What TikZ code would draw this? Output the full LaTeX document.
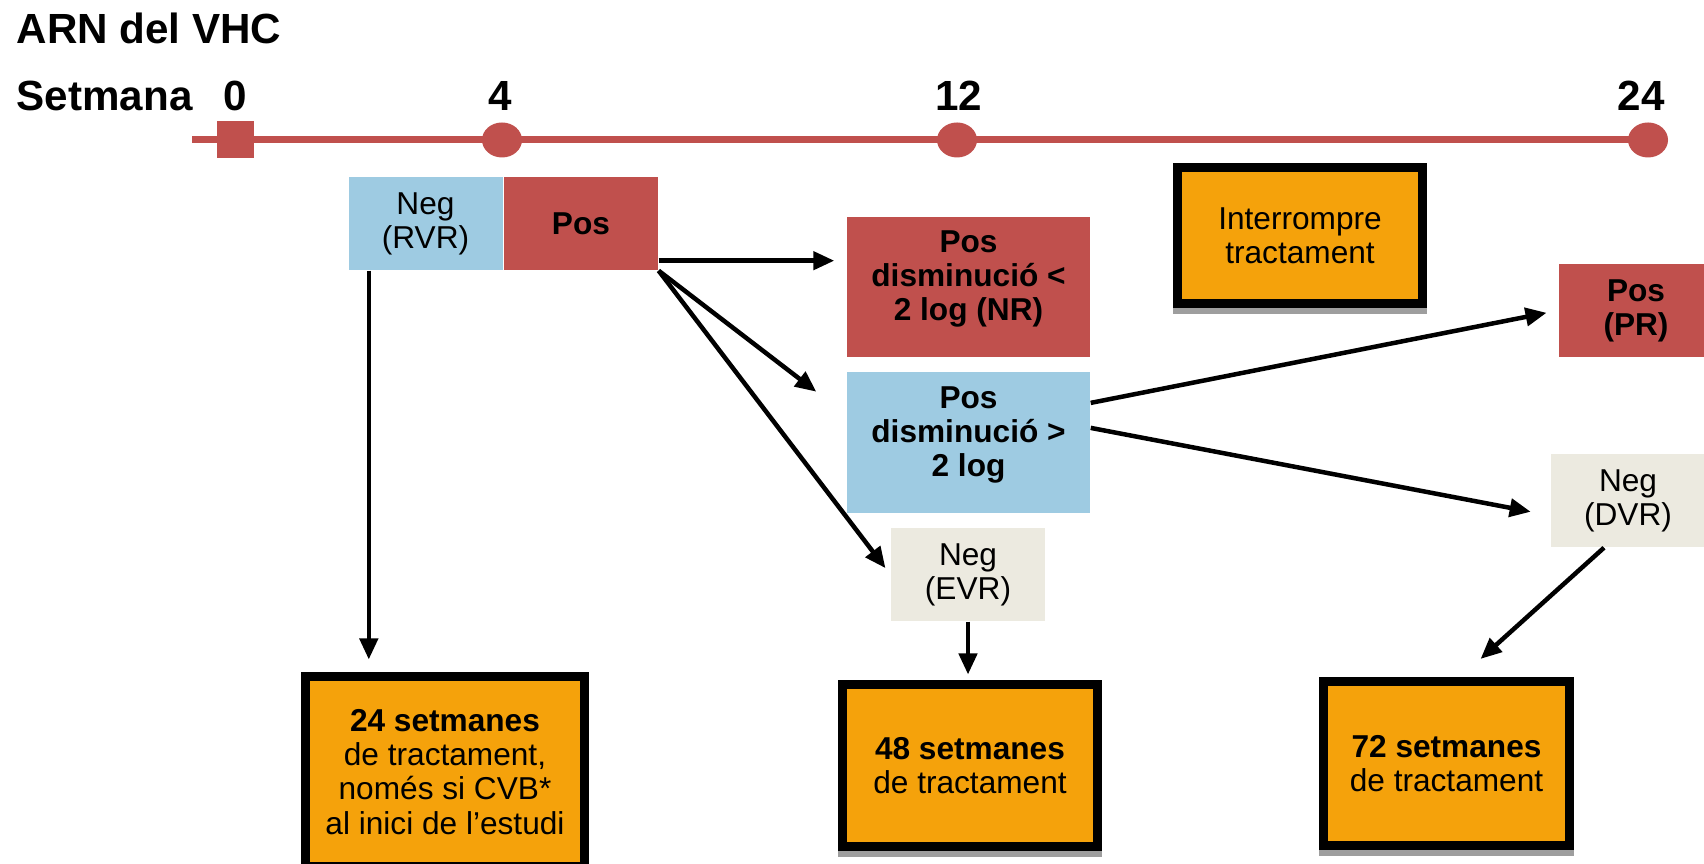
\documentclass[tikz,border=0pt]{standalone}
\usepackage{fontspec}
\setmainfont{Liberation Sans}
\usetikzlibrary{arrows.meta,positioning,shapes.geometric,shadows}

\definecolor{vhcred}{RGB}{192,80,77}
\definecolor{vhcblue}{RGB}{158,203,226}
\definecolor{vhcbeige}{RGB}{236,234,224}
\definecolor{vhcorange}{RGB}{245,162,11}

\begin{document}
\begin{tikzpicture}[
    cell/.style={inner sep=0pt, align=center, minimum width=1.54cm, minimum height=0.93cm,
                 font=\fontsize{9}{9.7}\selectfont},
    boldcell/.style={cell, font=\fontsize{9}{9.7}\selectfont\bfseries},
    wide/.style={boldcell, minimum width=2.43cm, minimum height=1.40cm, text depth=0.22cm},
    result/.style={cell, draw=black, line width=0.09cm, fill=vhcorange,
                   drop shadow={shadow xshift=0pt, shadow yshift=-0.06cm,
                                fill=black!38, draw=black!38, line width=0.09cm, opacity=1}},
    arr/.style={-{Triangle[length=2.1mm,width=1.8mm]}, line width=0.045cm},
    week/.style={font=\fontsize{12}{14}\selectfont\bfseries, inner sep=0pt, anchor=base},
    dot/.style={ellipse, fill=vhcred, minimum width=0.4cm, minimum height=0.35cm, inner sep=0pt}
  ]

    \useasboundingbox (0,0) rectangle (17.04,8.64);
    \clip (0,0) rectangle (17.04,8.64);

    % title and time axis
    \node[week, anchor=base west] (title) at (0.16,8.205) {ARN del VHC};
    \node[week, anchor=base west] (setmana) at (0.16,7.53) {Setmana};

    \draw[vhcred, line width=0.07cm] (1.92,7.24) -- (16.63,7.24);
    \node[fill=vhcred, minimum size=0.37cm, inner sep=0pt] (t0) at (2.35,7.24) {};
    \node[dot] (t4) at (5.02,7.24) {};
    \node[dot] (t12) at (9.57,7.24) {};
    \node[dot] (t24) at (16.48,7.24) {};

    \node[week] (n0) at (2.35,7.53) {0};
    \node[week] (n4) at (5.00,7.53) {4};
    \node[week] (n12) at (9.585,7.53) {12};
    \node[week] (n24) at (16.41,7.53) {24};

    % results at each week
    \node[cell, fill=vhcblue] (rvr) at (4.255,6.405) {Neg\\(RVR)};
    \node[boldcell, fill=vhcred, right=0pt of rvr] (pos) {Pos};
    \node[wide, fill=vhcred] (nr) at (9.685,5.77) {Pos\\disminució <\\2 log (NR)};
    \node[wide, fill=vhcblue, below=0.14cm of nr, minimum height=1.41cm] (dec) {Pos\\disminució >\\2 log};
    \node[cell, fill=vhcbeige] (evr) at (9.68,2.895) {Neg\\(EVR)};
    \node[boldcell, fill=vhcred] (pr) at (16.36,5.535) {Pos\\(PR)};
    \node[cell, fill=vhcbeige] (dvr) at (16.28,3.635) {Neg\\(DVR)};

    % treatment
    \node[result, minimum width=2.45cm, minimum height=1.36cm] (stop) at (13.00,6.285) {Interrompre\\tractament};
    \node[result, minimum width=2.79cm, minimum height=1.9cm] (w24) at (4.45,0.92)
        {\textbf{24 setmanes}\\de tractament,\\només si CVB*\\al inici de l’estudi};
    \node[result, minimum width=2.55cm, minimum height=1.62cm] (w48) at (9.70,0.985)
        {\textbf{48 setmanes}\\de tractament};
    \node[result, minimum width=2.46cm, minimum height=1.64cm] (w72) at (14.465,1.005)
        {\textbf{72 setmanes}\\de tractament};

    \draw[arr, shorten >=0.13cm] ([xshift=0.21cm]rvr.south west) -- ([xshift=0.21cm]rvr.south west |- w24.north);
    \draw[arr, shorten >=0.12cm] ([yshift=0.1cm]pos.south east) -- ([yshift=0.1cm]pos.south east -| nr.west);
    \draw[arr] (pos.south east) -- ([xshift=-0.3cm,yshift=-0.2cm]dec.north west);
    \draw[arr, shorten >=0.08cm] (pos.south east) -- (evr.west);
    \draw[arr, shorten >=0.055cm] (evr.south) -- (evr.south |- w48.north);
    \draw[arr, shorten >=0.12cm] ([yshift=0.4cm]dec.east) -- (pr.west);
    \draw[arr, shorten >=0.2cm] ([yshift=0.15cm]dec.east) -- ([yshift=-0.15cm]dvr.west);
    \draw[arr, shorten >=0.27cm] ([xshift=-0.24cm]dvr.south) -- ([xshift=0.14cm]w72.north);

\end{tikzpicture}
\end{document}
